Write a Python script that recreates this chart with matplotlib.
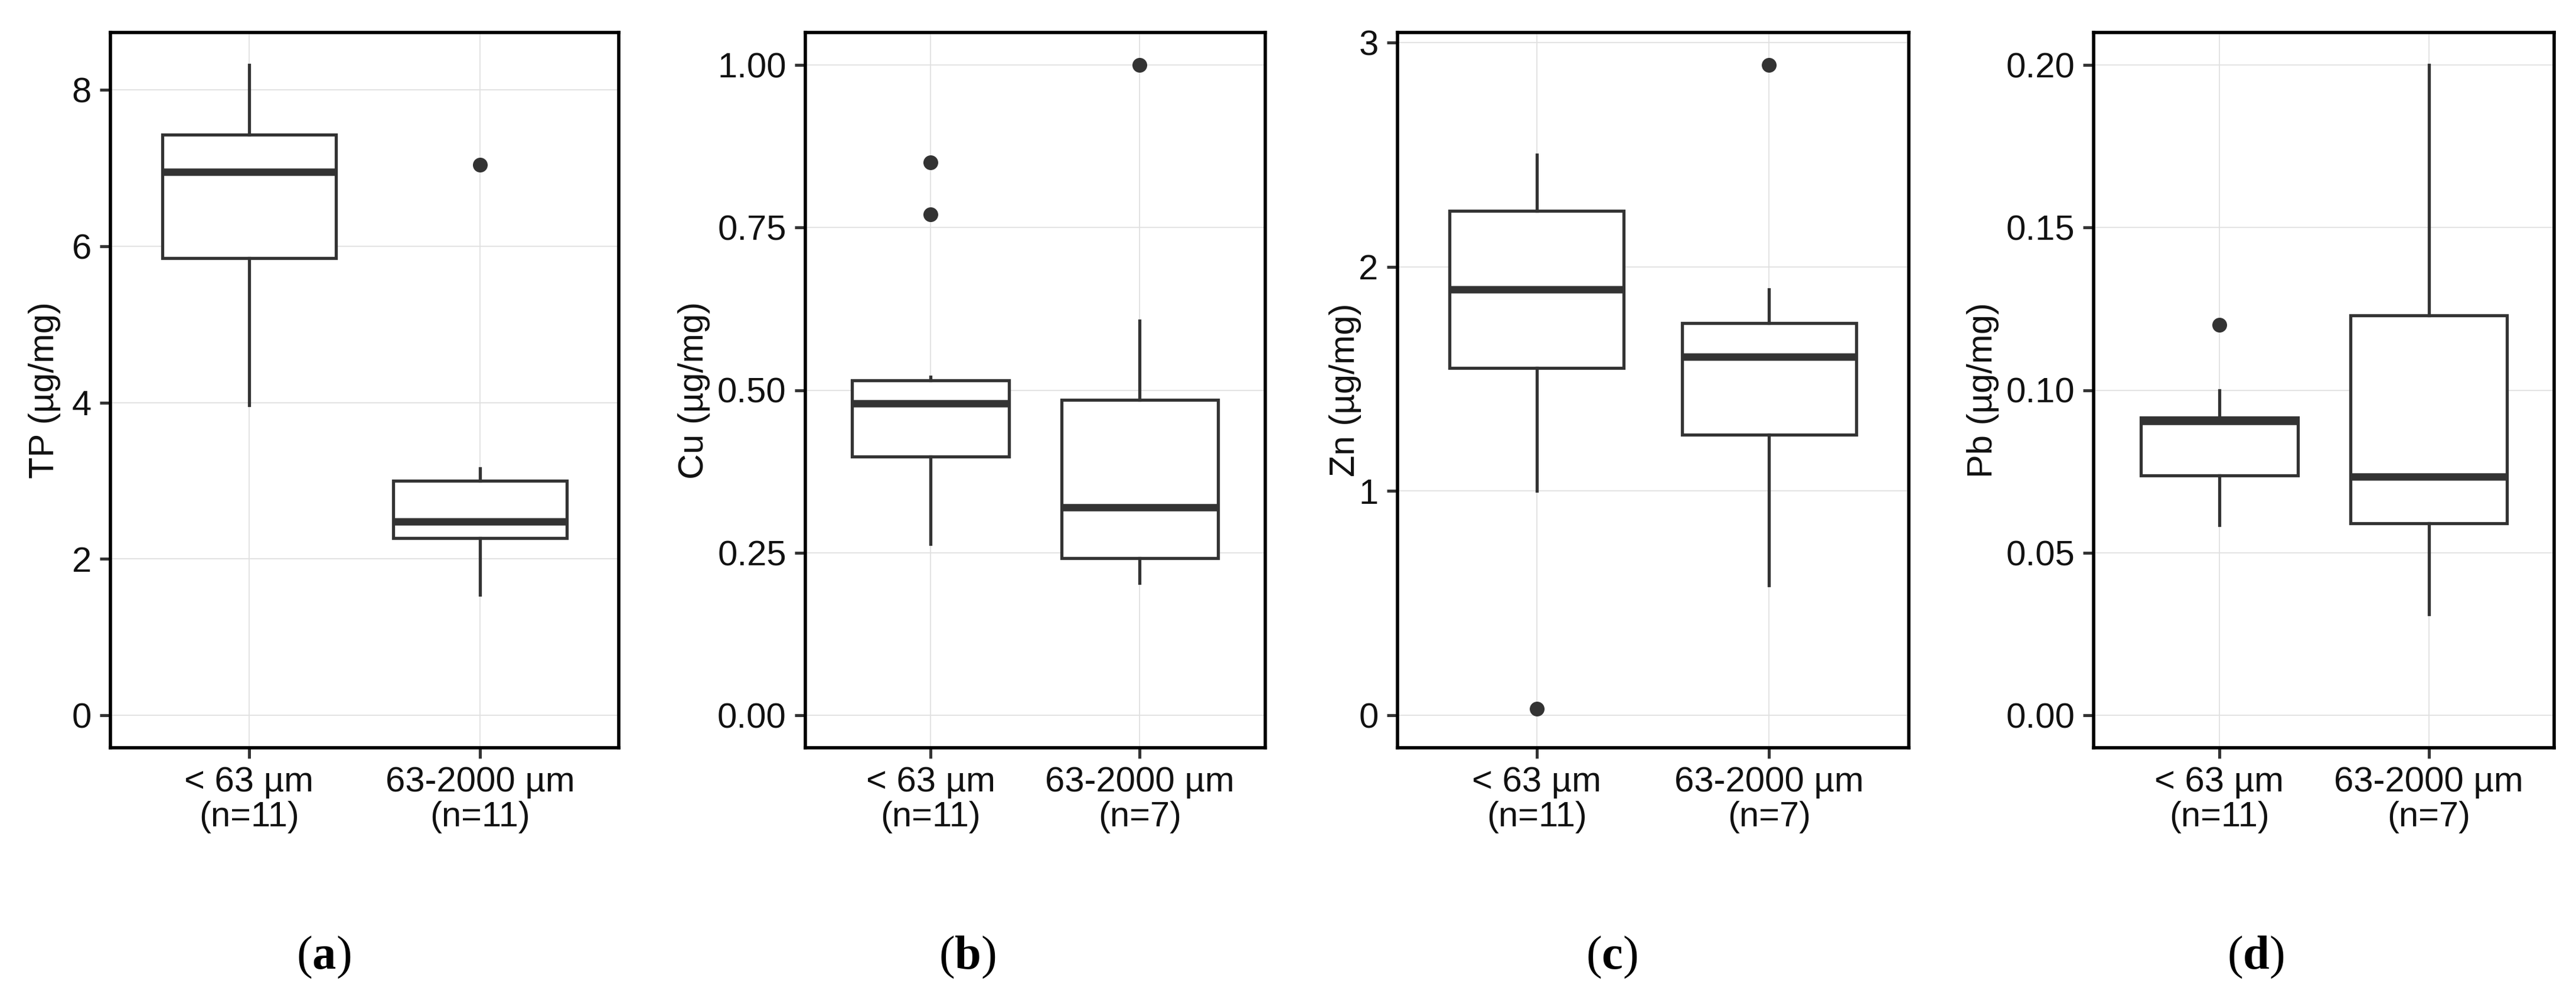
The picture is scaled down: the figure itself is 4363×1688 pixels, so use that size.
import matplotlib.pyplot as plt

plt.rcParams['font.family'] = ['Liberation Sans', 'DejaVu Sans']
plt.rcParams['mathtext.fontset'] = 'custom'
plt.rcParams['mathtext.rm'] = 'Liberation Serif'
plt.rcParams['mathtext.bf'] = 'Liberation Serif:bold'

# box statistics: [< 63 um, 63-2000 um]
tp_lo = [3.97, 1.54]
tp_q1 = [5.85, 2.27]
tp_med = [6.95, 2.48]
tp_q3 = [7.43, 3.00]
tp_hi = [8.32, 3.16]
tp_out = [[], [7.04]]

cu_lo = [0.263, 0.203]
cu_q1 = [0.398, 0.242]
cu_med = [0.48, 0.32]
cu_q3 = [0.515, 0.485]
cu_hi = [0.52, 0.607]
cu_out = [[0.85, 0.77], [1.00]]

zn_lo = [1.00, 0.58]
zn_q1 = [1.55, 1.25]
zn_med = [1.90, 1.60]
zn_q3 = [2.25, 1.75]
zn_hi = [2.50, 1.90]
zn_out = [[0.03], [2.90]]

pb_lo = [0.0585, 0.031]
pb_q1 = [0.0737, 0.059]
pb_med = [0.0905, 0.0733]
pb_q3 = [0.0915, 0.123]
pb_hi = [0.100, 0.200]
pb_out = [[0.12], []]

n_counts = [[11, 11], [11, 7], [11, 7], [11, 7]]
ylabels = ['TP (µg/mg)', 'Cu (µg/mg)', 'Zn (µg/mg)', 'Pb (µg/mg)']
yticks = [[0, 2, 4, 6, 8], [0, 0.25, 0.5, 0.75, 1.0], [0, 1, 2, 3], [0, 0.05, 0.10, 0.15, 0.20]]
ytick_fmt = ['{:.0f}', '{:.2f}', '{:.0f}', '{:.2f}']
panel_tags = ['a', 'b', 'c', 'd']

panels = [
    (tp_lo, tp_q1, tp_med, tp_q3, tp_hi, tp_out),
    (cu_lo, cu_q1, cu_med, cu_q3, cu_hi, cu_out),
    (zn_lo, zn_q1, zn_med, zn_q3, zn_hi, zn_out),
    (pb_lo, pb_q1, pb_med, pb_q3, pb_hi, pb_out),
]

W, H = 4363, 1688
fig = plt.figure(figsize=(W / 100, H / 100), dpi=100)
slot = W / 4
left_px = [187, 273, 185, 274]
right_px = [1048, 1052, 1051, 1054]
ylab_px = [76, 85, 97, 86]
bottom, top = 1 - 1266 / H, 1 - 55 / H

dark = '#333333'
for k, (lo, q1, med, q3, hi, out) in enumerate(panels):
    x0 = k * slot + left_px[k]
    x1 = k * slot + right_px[k]
    ax = fig.add_axes([x0 / W, bottom, (x1 - x0) / W, top - bottom])

    stats = []
    for i in range(2):
        stats.append(dict(whislo=lo[i], q1=q1[i], med=med[i], q3=q3[i],
                          whishi=hi[i], fliers=out[i]))
    ax.bxp(stats, positions=[1, 2], widths=0.75, showcaps=False, patch_artist=True,
           boxprops=dict(facecolor='white', edgecolor=dark, linewidth=3.8),
           whiskerprops=dict(color=dark, linewidth=3.8),
           medianprops=dict(color=dark, linewidth=9.0, solid_capstyle='butt'),
           flierprops=dict(marker='o', markersize=17, markerfacecolor=dark,
                           markeredgecolor=dark))

    # y range: data incl. 0, with 5% expansion
    vals = lo + hi + [v for o in out for v in o] + [0]
    ymin, ymax = min(vals), max(vals)
    pad = 0.05 * (ymax - ymin)
    ax.set_ylim(ymin - pad, ymax + pad)
    ax.set_xlim(0.4, 2.6)

    ax.set_yticks(yticks[k])
    ax.set_yticklabels([ytick_fmt[k].format(v) for v in yticks[k]])
    ax.set_xticks([1, 2])
    ax.set_xticklabels(['< 63 µm\n(n={})'.format(n_counts[k][0]),
                        '63-2000 µm\n(n={})'.format(n_counts[k][1])],
                       linespacing=1.1)

    ax.grid(True, color='#e0e0e0', linewidth=1.3)
    ax.set_axisbelow(True)
    for s in ax.spines.values():
        s.set_linewidth(4.0)
        s.set_color('black')
    ax.tick_params(axis='both', length=13, width=3.6, color=dark,
                   labelsize=43, labelcolor='#111111')
    ax.tick_params(axis='y', pad=10)
    ax.tick_params(axis='x', pad=9)

    ax.set_ylabel(ylabels[k], fontsize=43, color='#111111', va='center')
    ax.yaxis.set_label_coords((ylab_px[k] - left_px[k]) / (x1 - x0), 0.5)

    fig.text((k * slot + 548) / W, 1 - 1621 / H, r'$(\mathbf{' + panel_tags[k] + r'})$',
             fontsize=58, ha='center', va='center')

fig.savefig('out.png', dpi=100, facecolor='white')
